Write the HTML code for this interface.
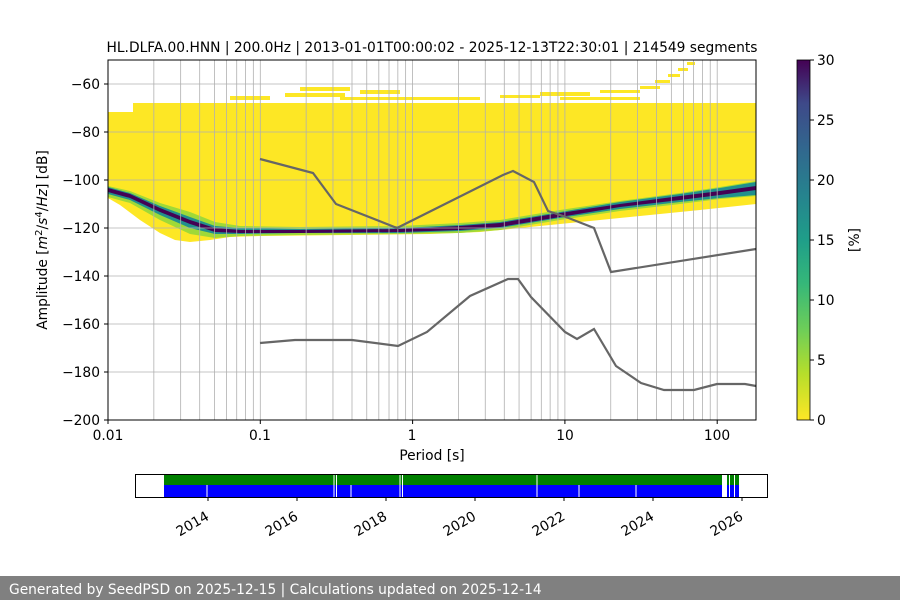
<!DOCTYPE html>
<html><head><meta charset="utf-8"><style>
body{margin:0;background:#fff;}
svg{display:block;font-family:"DejaVu Sans","Liberation Sans",sans-serif;}
</style></head><body>
<svg width="900" height="600" viewBox="0 0 900 600" xmlns="http://www.w3.org/2000/svg">
<defs>
<linearGradient id="vir" x1="0" y1="1" x2="0" y2="0">
<stop offset="0" stop-color="#fde725"/><stop offset="0.13" stop-color="#b5de2b"/><stop offset="0.25" stop-color="#6ece58"/><stop offset="0.38" stop-color="#35b779"/><stop offset="0.5" stop-color="#1f9e89"/><stop offset="0.63" stop-color="#26828e"/><stop offset="0.75" stop-color="#31688e"/><stop offset="0.88" stop-color="#3e4989"/><stop offset="1" stop-color="#440154"/>
</linearGradient>
<clipPath id="pc"><rect x="108" y="60" width="648" height="360"/></clipPath>
</defs>
<text x="432" y="52" font-size="13.8" text-anchor="middle">HL.DLFA.00.HNN | 200.0Hz | 2013-01-01T00:00:02 - 2025-12-13T22:30:01 | 214549 segments</text>
<g clip-path="url(#pc)">
<polygon fill="#fde725" points="108,112 133,112 133,103 756,103 756,204 700,210 640,216 580,222 530,227 480,232 430,234 260,236 230,237 210,240 190,242 175,240 160,233 140,220 120,205 108,198"/>
<g fill="#fde725">
<rect x="230" y="96" width="40" height="4"/><rect x="285" y="93" width="60" height="4"/><rect x="300" y="87" width="50" height="4"/><rect x="340" y="97" width="90" height="3"/><rect x="360" y="90" width="40" height="4"/><rect x="430" y="97" width="50" height="3"/><rect x="500" y="95" width="40" height="3"/><rect x="540" y="92" width="50" height="4"/><rect x="560" y="97" width="80" height="3"/><rect x="600" y="90" width="40" height="3"/><rect x="640" y="86" width="20" height="3"/><rect x="655" y="80" width="15" height="3"/><rect x="668" y="74" width="12" height="3"/><rect x="678" y="68" width="10" height="3"/><rect x="687" y="62" width="8" height="3"/>
</g>
<polygon fill="#9fd938" points="108,186 130,191 160,203 190,212 215,222 240,226 300,227 400,226 460,223 500,220 560,210 620,201 680,193 720,187 756,181 756,196 720,199 680,204 620,211 560,220 500,230 460,233 400,234 300,235 240,236 215,238 190,234 160,220 130,203 108,197"/>
<polygon fill="#21908d" points="108,187 130,193 160,206 190,217 215,226 240,228 300,229 400,228 460,225 500,222 560,212 620,202 680,194 720,188 756,182 756,195 720,198 680,202 620,209 560,218 500,228 460,231 400,233 300,233 240,234 215,234 190,228 160,215 130,200 108,194"/>
<polygon fill="#440154" points="108,188 130,194 160,208 190,220 215,228 240,230 300,230 400,229 460,226 500,223 560,213 620,204 680,196 720,191 756,186 756,190 720,195 680,200 620,207 560,217 500,227 460,230 400,232 300,233 240,233 215,232 190,224 160,212 130,198 108,192"/>
</g>
<g stroke="#b0b0b0" stroke-width="0.8" id="grid">
<line x1="108" y1="84" x2="756" y2="84"/><line x1="108" y1="132" x2="756" y2="132"/><line x1="108" y1="180" x2="756" y2="180"/><line x1="108" y1="228" x2="756" y2="228"/><line x1="108" y1="276" x2="756" y2="276"/><line x1="108" y1="324" x2="756" y2="324"/><line x1="108" y1="372" x2="756" y2="372"/>
</g>
<g stroke="#b0b0b0" stroke-width="0.8" id="vg"></g>
<g fill="none" stroke="#666" stroke-width="2.2">
<polyline points="260,159 313,173 336,204 397,228 503,175 513,171 534,182 548,211 566,217 594,228 611,272 756,249"/>
<polyline points="260,343 295,340 352,340 398,346 427,332 470,296 508,279 518,279 531,297 565,332 577,339 594,329 616,366 641,383 664,390 694,390 717,384 745,384 756,386"/>
</g>
<rect x="108" y="60" width="648" height="360" fill="none" stroke="#000" stroke-width="1"/>
<g font-size="13.8" text-anchor="end" id="yl"></g>
<g font-size="13.8" text-anchor="middle">
<text x="108" y="440">0.01</text><text x="260" y="440">0.1</text><text x="412" y="440">1</text><text x="565" y="440">10</text><text x="717" y="440">100</text>
<text x="432" y="460">Period [s]</text>
</g>
<text transform="translate(47,240) rotate(-90)" font-size="13.8" text-anchor="middle">Amplitude [<tspan font-style="italic">m</tspan><tspan dy="-5" font-size="10">2</tspan><tspan dy="5">/</tspan><tspan font-style="italic">s</tspan><tspan dy="-5" font-size="10">4</tspan><tspan dy="5">/</tspan><tspan font-style="italic">Hz</tspan>] [dB]</text>
<rect x="797" y="60" width="13" height="360" fill="url(#vir)" stroke="#000" stroke-width="0.8"/>
<g font-size="13.8" id="cb"></g>
<text transform="translate(859,240) rotate(-90)" font-size="13.8" text-anchor="middle">[%]</text>
<rect x="164" y="474" width="575" height="11" fill="#008000"/>
<rect x="164" y="485" width="575" height="12" fill="#0000ff"/>
<g fill="#fff">
<rect x="206.5" y="485" width="1" height="12"/><rect x="333.5" y="474" width="1" height="23"/><rect x="336" y="474" width="1" height="23"/><rect x="350.5" y="485" width="1" height="12"/><rect x="399.5" y="474" width="1" height="23"/><rect x="402" y="474" width="1" height="23"/><rect x="536.5" y="474" width="1" height="23"/><rect x="578.5" y="485" width="1" height="12"/><rect x="635.5" y="485" width="1" height="12"/><rect x="722" y="474" width="5" height="23"/><rect x="729" y="474" width="1" height="23"/><rect x="734" y="474" width="1" height="23"/>
</g>
<rect x="135.5" y="474.5" width="632" height="23" fill="none" stroke="#000" stroke-width="1"/>
<g font-size="13.8" id="yr"></g>
<rect x="0" y="576" width="900" height="24" fill="#808080"/>
<text x="9" y="594" font-size="13.8" fill="#fff">Generated by SeedPSD on 2025-12-15 | Calculations updated on 2025-12-14</text>
<script>
var ns="http://www.w3.org/2000/svg";
function el(p,t,a,txt){var e=document.createElementNS(ns,t);for(var k in a)e.setAttribute(k,a[k]);if(txt)e.textContent=txt;document.getElementById(p).appendChild(e);return e;}
for(var d=-2;d<=2;d++)for(var m=1;m<10;m++){var x=108+(d+2+Math.log10(m))*152.3;if(x>108.5&&x<755.5)el("vg","line",{x1:x,y1:60,x2:x,y2:420});}
for(var v=-60;v>=-200;v-=20){var y=60+(-50-v)*2.4;el("yl","text",{x:100,y:y+5},"\u2212"+(-v));el("yl","line",{x1:104,y1:y,x2:108,y2:y,stroke:"#000"});}
for(var d=-2;d<=2;d++){var x=108+(d+2)*152.3;el("yl","line",{x1:x,y1:420,x2:x,y2:424,stroke:"#000"});}
for(var v=0;v<=30;v+=5){var y=420-v*12;el("cb","line",{x1:810,y1:y,x2:814,y2:y,stroke:"#000"});el("cb","text",{x:817,y:y+5},""+v);}
for(var i=0;i<7;i++){var x=208+i*89;el("yr","line",{x1:x,y1:497.5,x2:x,y2:501,stroke:"#000"});el("yr","text",{x:x+2,y:519,"text-anchor":"end",transform:"rotate(-30 "+(x+2)+" 519)"},""+(2014+2*i));}
</script>
</svg>
</body></html>
